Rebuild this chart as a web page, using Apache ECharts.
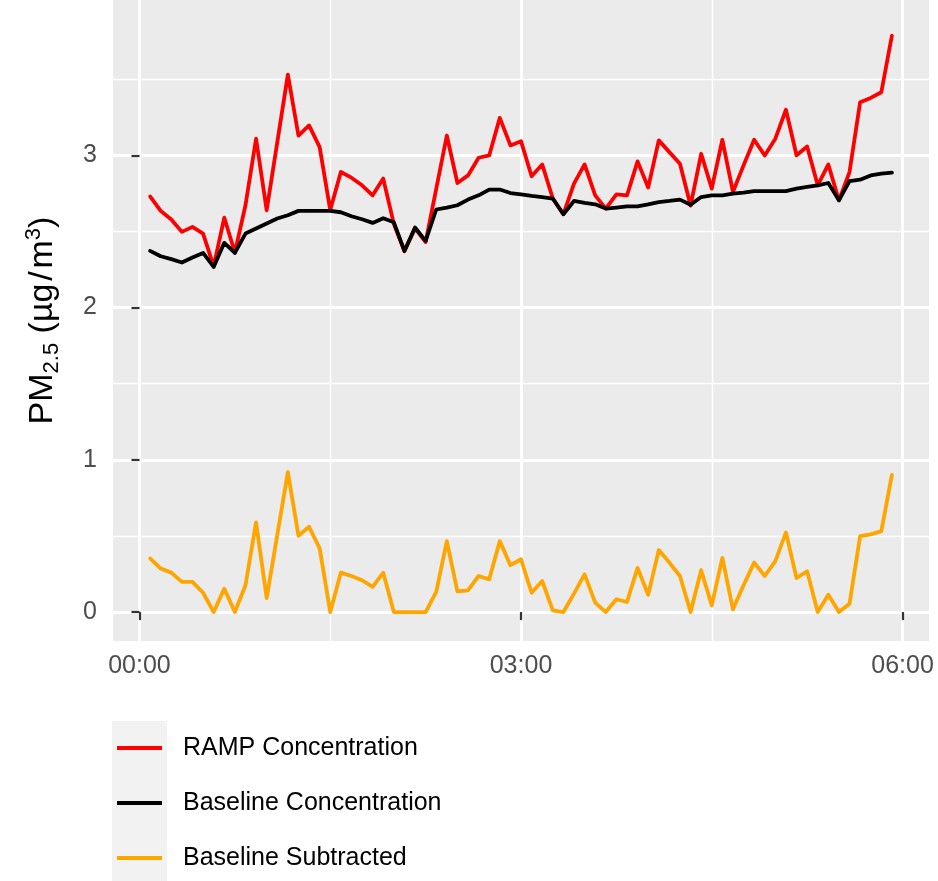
<!DOCTYPE html>
<html>
<head>
<meta charset="utf-8">
<script src="https://cdn.jsdelivr.net/npm/echarts@6/dist/echarts.min.js"></script>
<style>
html,body{margin:0;padding:0;background:#fff;}
#chart{width:938px;height:881px;}
</style>
</head>
<body>
<div id="chart"></div>
<script>
// ---- data ----
const times = [
  "00:05","00:10","00:15","00:20","00:25","00:30","00:35","00:40","00:45","00:50",
  "00:55","01:00","01:05","01:10","01:15","01:20","01:25","01:30","01:35","01:40",
  "01:45","01:50","01:55","02:00","02:05","02:10","02:15","02:20","02:25","02:30",
  "02:35","02:40","02:45","02:50","02:55","03:00","03:05","03:10","03:15","03:20",
  "03:25","03:30","03:35","03:40","03:45","03:50","03:55","04:00","04:05","04:10",
  "04:15","04:20","04:25","04:30","04:35","04:40","04:45","04:50","04:55","05:00",
  "05:05","05:10","05:15","05:20","05:25","05:30","05:35","05:40","05:45","05:50",
  "05:55"
];
const rampConc = [
  2.73, 2.635, 2.578, 2.497, 2.53, 2.486, 2.27, 2.591, 2.36, 2.672,
  3.109, 2.639, 3.085, 3.53, 3.13, 3.196, 3.054, 2.64, 2.89, 2.853,
  2.803, 2.737, 2.847, 2.55, 2.37, 2.52, 2.43, 2.78, 3.13, 2.818,
  2.868, 2.984, 2.999, 3.246, 3.065, 3.093, 2.862, 2.94, 2.716, 2.613,
  2.814, 2.94, 2.737, 2.65, 2.744, 2.737, 2.96, 2.788, 3.098, 3.021,
  2.945, 2.67, 3.01, 2.781, 3.102, 2.759, 2.934, 3.102, 2.999, 3.109,
  3.299, 3.0, 3.058, 2.803, 2.94, 2.704, 2.89, 3.349, 3.377, 3.414,
  3.786
];
const baselineConc = [
  2.372, 2.337, 2.318, 2.296, 2.329, 2.359, 2.267, 2.425, 2.359, 2.486,
  2.519, 2.552, 2.585, 2.606, 2.635, 2.635, 2.635, 2.635, 2.626, 2.6,
  2.58, 2.556, 2.587, 2.56, 2.372, 2.526, 2.438, 2.644, 2.657, 2.672,
  2.709, 2.737, 2.775, 2.775, 2.752, 2.744, 2.733, 2.726, 2.716, 2.613,
  2.7, 2.687, 2.678, 2.65, 2.657, 2.665, 2.665, 2.678, 2.693, 2.7,
  2.709, 2.675, 2.726, 2.737, 2.737, 2.748, 2.755, 2.765, 2.765, 2.765,
  2.765, 2.781, 2.792, 2.803, 2.818, 2.704, 2.831, 2.84, 2.868, 2.88,
  2.886
];
const baselineSub = [
  0.352, 0.286, 0.259, 0.198, 0.198, 0.127, 0, 0.154, 0, 0.176,
  0.589, 0.092, 0.505, 0.919, 0.501, 0.56, 0.418, 0, 0.259, 0.237,
  0.209, 0.165, 0.259, 0, 0, 0, 0, 0.132, 0.466, 0.136,
  0.143, 0.237, 0.215, 0.466, 0.308, 0.347, 0.127, 0.204, 0.011, 0,
  0.121, 0.248, 0.062, 0, 0.084, 0.066, 0.29, 0.114, 0.407, 0.325,
  0.237, 0, 0.275, 0.044, 0.356, 0.018, 0.176, 0.325, 0.237, 0.334,
  0.523, 0.224, 0.268, 0, 0.114, 0, 0.055, 0.499, 0.51, 0.532,
  0.901
];
const seriesNames = ["RAMP Concentration", "Baseline Concentration", "Baseline Subtracted"];
const seriesColors = ["#FF0000", "#000000", "#FFA500"];
const xTickLabels = ["00:00", "03:00", "06:00"];
const xMinorLabels = ["01:30", "04:30"];
const yTicks = [0, 1, 2, 3];
const yMinorTicks = [0.5, 1.5, 2.5, 3.5];

// ---- helpers ----
const FONT = "'Liberation Sans', Arial, sans-serif";
function toMin(s){ const p = s.split(":"); return (+p[0]) * 60 + (+p[1]); }
function fmtMin(v){
  const h = Math.floor(v / 60), m = Math.round(v - h * 60);
  return String(h).padStart(2, "0") + ":" + String(m).padStart(2, "0");
}
const xMajor = xTickLabels.map(toMin);
const xMinor = xMinorLabels.map(toMin);
const xMin = -12.5, xMax = 372.5;
const yMin = -0.19, yMax = 4.02;

function pairs(vals){ return times.map((t, i) => [toMin(t), vals[i]]); }
const allVals = [rampConc, baselineConc, baselineSub];

const chart = echarts.init(document.getElementById("chart"), null, {renderer: "canvas"});
chart.setOption({
  animation: false,
  backgroundColor: "#FFFFFF",
  textStyle: {fontFamily: FONT},
  grid: {
    left: 113, right: 9, top: 0, bottom: 240,
    show: true, backgroundColor: "#EBEBEB", borderWidth: 0
  },
  xAxis: [
    {
      type: "value", min: xMin, max: xMax, position: "bottom",
      axisLine: {show: false},
      axisTick: {show: true, length: 8, lineStyle: {color: "#333333", width: 2.2}, customValues: xMajor},
      axisLabel: {customValues: xMajor, formatter: v => fmtMin(v), color: "#4D4D4D",
                  fontSize: 25, margin: 13, fontFamily: FONT},
      splitLine: {show: true, lineStyle: {color: "#FFFFFF", width: 2.8}}
    },
    {
      type: "value", min: xMin, max: xMax, position: "bottom",
      axisLine: {show: false},
      axisTick: {show: false, customValues: xMinor},
      axisLabel: {show: false, customValues: xMinor},
      splitLine: {show: true, lineStyle: {color: "#FFFFFF", width: 1.4}}
    }
  ],
  yAxis: [
    {
      type: "value", min: yMin, max: yMax, position: "left",
      axisLine: {show: false},
      axisTick: {show: true, length: 8, lineStyle: {color: "#333333", width: 2.2}, customValues: yTicks},
      axisLabel: {customValues: yTicks, formatter: v => String(Math.round(v)), color: "#4D4D4D",
                  fontSize: 25, margin: 16, fontFamily: FONT},
      splitLine: {show: true, lineStyle: {color: "#FFFFFF", width: 2.8}},
      name: "{m|PM}{s|2.5}{m| (µg\u200A/\u200Am}{p|3}{m|)}",
      nameLocation: "middle", nameRotate: 90, nameGap: 50,
      nameTextStyle: {
        rich: {
          m: {fontSize: 34, lineHeight: 40, color: "#000000", fontFamily: FONT},
          s: {fontSize: 22, lineHeight: 24, verticalAlign: "bottom", color: "#000000", fontFamily: FONT},
          p: {fontSize: 22, lineHeight: 12, verticalAlign: "top", color: "#000000", fontFamily: FONT}
        }
      }
    },
    {
      type: "value", min: yMin, max: yMax, position: "left",
      axisLine: {show: false},
      axisTick: {show: false, customValues: yMinorTicks},
      axisLabel: {show: false, customValues: yMinorTicks},
      splitLine: {show: true, lineStyle: {color: "#FFFFFF", width: 1.4}}
    }
  ],
  legend: {
    orient: "vertical", left: 117, top: 735.5, padding: 0,
    itemWidth: 45, itemHeight: 4, itemGap: 30, icon: "rect",
    textStyle: {fontSize: 25, lineHeight: 25, color: "#000000", fontFamily: FONT, padding: [0, 0, 0, 16]},
    data: seriesNames
  },
  graphic: [{
    type: "rect", left: 112, top: 721, z: 0, silent: true,
    shape: {width: 55, height: 160},
    style: {fill: "#F2F2F2"}
  }],
  series: seriesNames.map((name, k) => ({
    name: name, type: "line", xAxisIndex: 0, yAxisIndex: 0,
    data: pairs(allVals[k]),
    showSymbol: false, symbol: "none",
    color: seriesColors[k],
    lineStyle: {color: seriesColors[k], width: 3.8, join: "round", cap: "round"},
    z: 2 + k
  }))
});
</script>
</body>
</html>
